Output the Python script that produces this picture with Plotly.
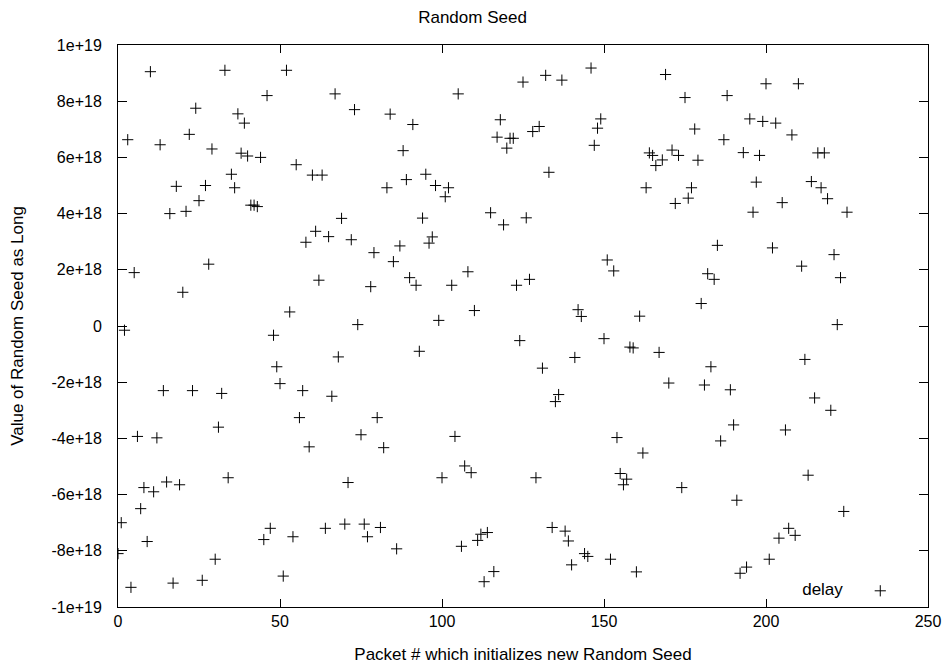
import plotly.graph_objects as go

packets = list(range(0, 226))

seed_e18 = [
    -8.1, -7.0, -0.15, 6.63, -9.3, 1.9, -3.93, -6.5, -5.75, -7.67,
    9.05, -5.9, -3.98, 6.45, -2.3, -5.55, 4.0, -9.15, 4.97, -5.65,
    1.2, 4.08, 6.82, -2.3, 7.75, 4.46, -9.05, 5.0, 2.2, 6.3,
    -8.3, -3.6, -2.4, 9.1, -5.4, 5.4, 4.92, 7.55, 6.15, 7.22,
    6.05, 4.3, 4.3, 4.25, 6.0, -7.6, 8.2, -7.2, -0.33, -1.45,
    -2.05, -8.9, 9.1, 0.5, -7.5, 5.74, -3.26, -2.3, 2.98, -4.3,
    5.37, 3.37, 1.63, 5.37, -7.2, 3.18, -2.5, 8.26, -1.1, 3.83,
    -7.05, -5.57, 3.07, 7.7, 0.05, -3.87, -7.05, -7.5, 1.4, 2.61,
    -3.26, -7.17, -4.33, 4.92, 7.54, 2.29, -7.93, 2.85, 6.24, 5.21,
    1.72, 7.17, 1.45, -0.9, 3.84, 5.4, 2.95, 3.17, 5.0, 0.2,
    -5.4, 4.6, 4.92, 1.45, -3.93, 8.26, -7.84, -4.98, 1.93, -5.22,
    0.55, -7.63, -7.41, -9.1, -7.35, 4.03, -8.74, 6.72, 7.34, 3.6,
    6.33, 6.68, 6.68, 1.45, -0.52, 8.68, 3.85, 1.66, 6.92, -5.4,
    7.1, -1.5, 8.92, 5.47, -7.17, -2.69, -2.44, 8.75, -7.3, -7.65,
    -8.5, -1.12, 0.58, 0.34, -8.1, -8.2, 9.18, 6.43, 7.04, 7.37,
    -0.45, 2.35, -8.3, 1.96, -3.97, -5.25, -5.65, -5.45, -0.75, -0.78,
    -8.75, 0.35, -4.52, 4.92, 6.16, 6.07, 5.71, -0.94, 5.91, 8.95,
    -2.03, 6.26, 4.36, 6.07, -5.75, 8.13, 4.55, 4.92, 7.01, 5.9,
    0.8, -2.1, 1.86, -1.45, 1.66, 2.87, -4.09, 6.63, 8.2, -2.27,
    -3.52, -6.2, -8.8, 6.17, -8.58, 7.37, 4.05, 5.12, 6.07, 7.28,
    8.62, -8.3, 2.78, 7.22, -7.55, 4.39, -3.7, -7.2, 6.8, -7.45,
    8.62, 2.13, -1.19, -5.31, 5.14, -2.56, 6.16, 4.92, 6.16, 4.53,
    -3.0, 2.54, 0.05, 1.72, -6.6, 4.05,
]
seed_values = [v * 1e18 for v in seed_e18]

x_ticks = [0, 50, 100, 150, 200, 250]
y_tickvals = [1e19, 8e18, 6e18, 4e18, 2e18, 0, -2e18, -4e18, -6e18, -8e18, -1e19]
y_ticktext = ["1e+19", "8e+18", "6e+18", "4e+18", "2e+18", "0",
              "-2e+18", "-4e+18", "-6e+18", "-8e+18", "-1e+19"]

FONT = "Liberation Sans, Arial, Helvetica, sans-serif"
TICK_SIZE = 16
TEXT_SIZE = 17

fig = go.Figure()
fig.add_trace(go.Scatter(
    x=packets, y=seed_values, mode="markers", name=" ",
    marker=dict(symbol="cross-thin", size=8, color="black",
                line=dict(width=1, color="black")),
    showlegend=True,
))

fig.update_layout(
    width=945, height=664,
    margin=dict(l=118, r=17, t=45, b=57),
    paper_bgcolor="white", plot_bgcolor="white",
    font=dict(family=FONT, size=TICK_SIZE, color="black"),
    title=dict(text="Random Seed", x=0.5, xanchor="center", y=0.975, yanchor="middle",
               font=dict(family=FONT, size=TEXT_SIZE, color="black")),
    legend=dict(x=0.978, xanchor="right", y=-0.004, yanchor="bottom",
                bgcolor="rgba(0,0,0,0)", borderwidth=0,
                title=dict(text="delay\u00a0\u00a0", side="left",
                           font=dict(family=FONT, size=TEXT_SIZE)),
                font=dict(family=FONT, size=TEXT_SIZE)),
    showlegend=True,
)
fig.update_xaxes(
    range=[0, 250], tickvals=x_ticks, ticks="inside", ticklen=8, tickcolor="black",
    showline=True, linecolor="black", linewidth=1, mirror="ticks",
    showgrid=False, zeroline=False, automargin=False,
    tickfont=dict(family=FONT, size=TICK_SIZE, color="black"),
    title=dict(text="Packet # which initializes new Random Seed", standoff=18,
               font=dict(family=FONT, size=TEXT_SIZE, color="black")),
)
fig.update_yaxes(
    range=[-1e19, 1e19], tickvals=y_tickvals, ticktext=y_ticktext,
    ticks="inside", ticklen=9, tickcolor="black",
    showline=True, linecolor="black", linewidth=1, mirror="ticks",
    showgrid=False, zeroline=False, ticklabelstandoff=12, automargin=False,
    tickfont=dict(family=FONT, size=TICK_SIZE, color="black"),
    title=dict(text="Value of Random Seed as Long", standoff=23,
               font=dict(family=FONT, size=TEXT_SIZE, color="black")),
)

fig.write_html("out.html")
